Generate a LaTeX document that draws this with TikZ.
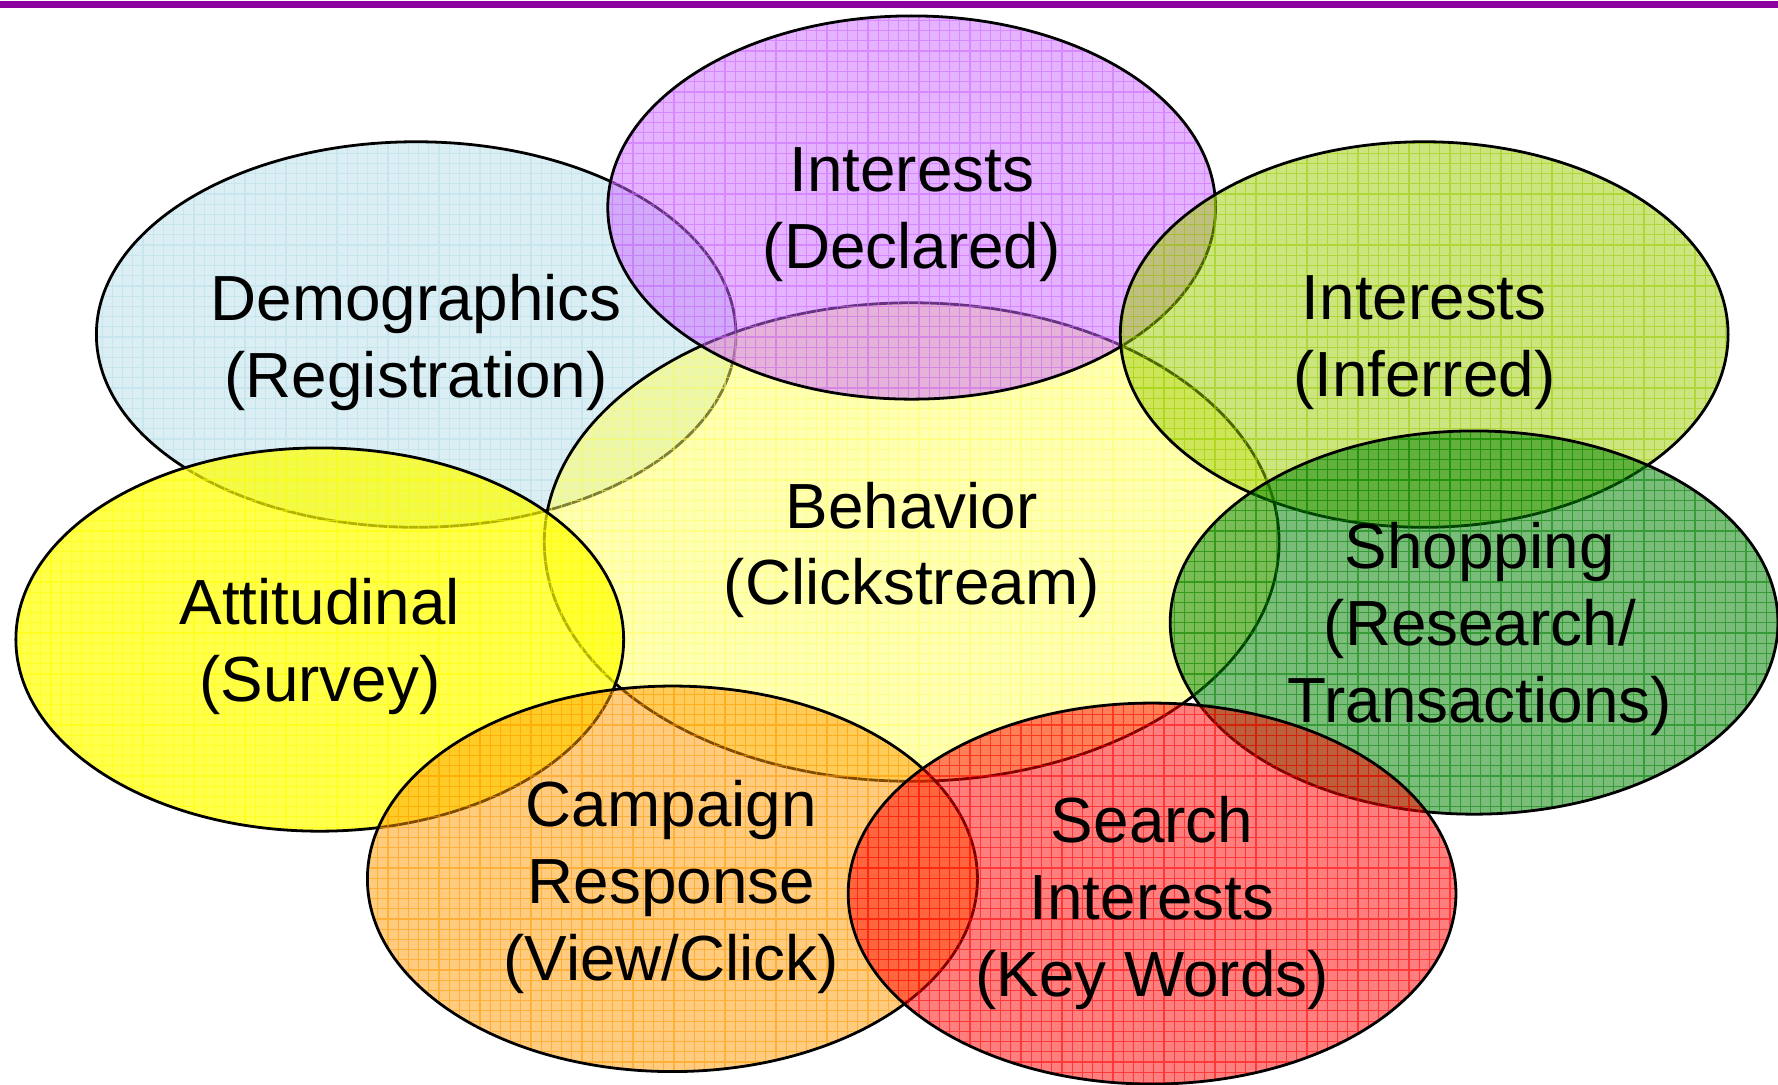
\documentclass[tikz,border=0pt]{standalone}
\usepackage{fontspec}
\setmainfont{Liberation Sans}
\definecolor{topline}{RGB}{140,0,160}
\definecolor{demo}{RGB}{183,222,232}
\definecolor{decl}{RGB}{204,102,255}
\definecolor{infer}{RGB}{153,204,0}
\definecolor{behav}{RGB}{255,255,102}
\definecolor{attit}{RGB}{255,255,0}
\definecolor{shop}{RGB}{0,128,0}
\definecolor{camp}{RGB}{255,153,0}
\definecolor{srch}{RGB}{255,0,0}
\tikzset{lbl/.style={align=center,font=\fontsize{16}{19.3}\selectfont}}
\begin{document}
\begin{tikzpicture}[x=0.01cm,y=-0.01cm]
  \useasboundingbox (0,0) rectangle (1568,956);
  \draw[topline,line width=1.6pt] (0,4) -- (1568,4);

  % bubbles, back to front
  \foreach \cx/\cy/\rx/\ry/\col/\op in {367/295/282/170/demo/0.5, 804/478/324/211/behav/0.5,
      804/183/268/169/decl/0.5, 1256/295/268/170/infer/0.5, 1300/549/268/169/shop/0.52,
      282/564/268/169/attit/0.7, 593/775/269/170/camp/0.5, 1016/788/268/168/srch/0.5} {
    \fill[\col,fill opacity=\op] (\cx,\cy) ellipse [x radius=\rx, y radius=\ry];
    \begin{scope}
      \clip (\cx,\cy) ellipse [x radius=\rx, y radius=\ry];
      \draw[\col,line width=0.3pt,opacity=0.55,step=0.09cm] (\cx-\rx,\cy-\ry) grid (\cx+\rx,\cy+\ry);
    \end{scope}
    \draw[line width=0.7pt] (\cx,\cy) ellipse [x radius=\rx, y radius=\ry];
  }

  \node[lbl] (demogr) at (367,302) {Demographics\\(Registration)};
  \node[lbl] (behavior) at (804,485) {Behavior\\(Clickstream)};
  \node[lbl] (declared) at (804,189) {Interests\\(Declared)};
  \node[lbl] (inferred) at (1256,302) {Interests\\(Inferred)};
  \node[lbl] (shopping) at (1305,555) {Shopping\\(Research/\\Transactions)};
  \node[lbl] (attitude) at (282,570) {Attitudinal\\(Survey)};
  \node[lbl] (campaign) at (592,782) {Campaign\\Response\\(View/Click)};
  \node[lbl] (search) at (1016,796) {Search\\Interests\\(Key Words)};
\end{tikzpicture}
\end{document}
